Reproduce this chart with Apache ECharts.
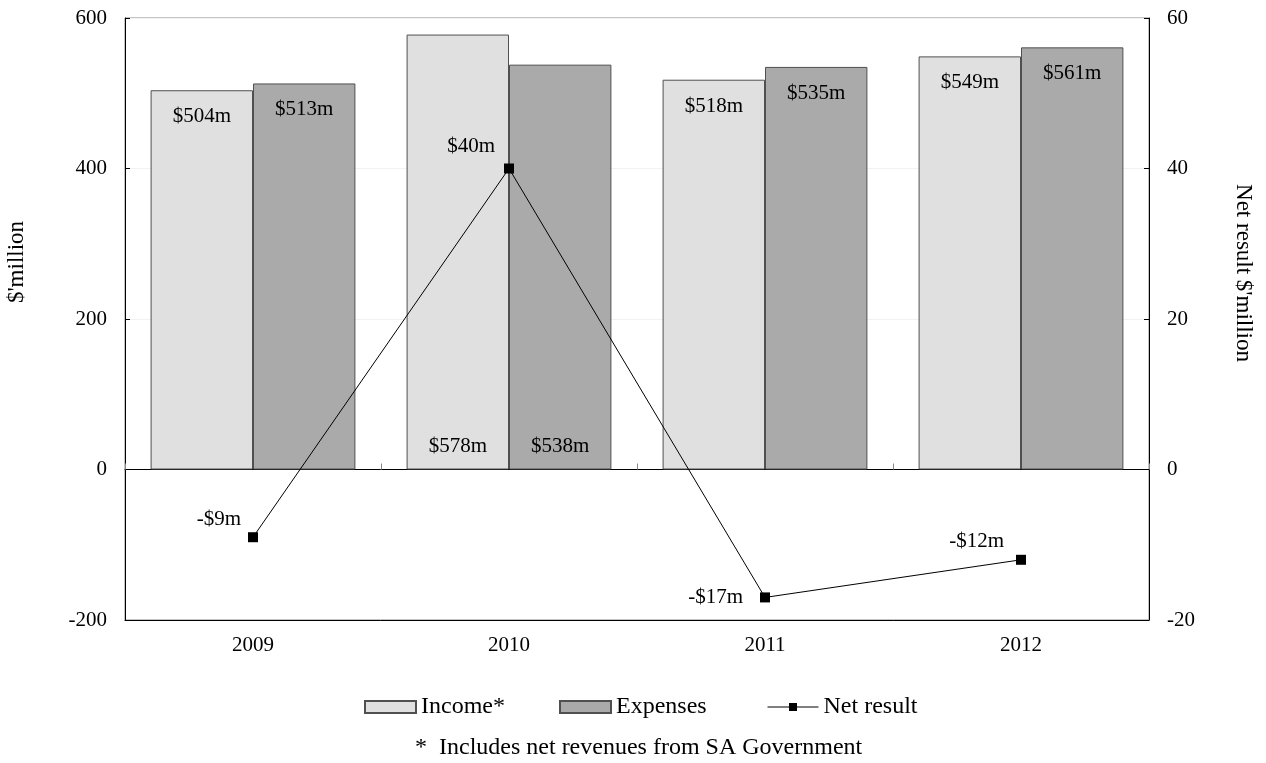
<!DOCTYPE html>
<html>
<head>
<meta charset="utf-8">
<script src="https://cdn.jsdelivr.net/npm/echarts@6/dist/echarts.min.js"></script>
<style>
  html, body { margin: 0; padding: 0; background: #ffffff; }
  #chart { width: 1266px; height: 763px; }
</style>
</head>
<body>
<div id="chart"></div>
<script>
// Financial summary: income, expenses and net result by year
const years = ['2009', '2010', '2011', '2012'];
const income = [504, 578, 518, 549];
const expenses = [513, 538, 535, 561];
const netResult = [-9, 40, -17, -12];
const leftTicks = { min: -200, max: 600, interval: 200 };
const rightTicks = { min: -20, max: 60, interval: 20 };

const FONT = "'Liberation Serif', 'Times New Roman', serif";

function money(v) {
  return (v < 0 ? '-$' + Math.abs(v) : '$' + v) + 'm';
}

// 2010 bar labels sit at the foot of the bars, others at the top
const barLabelBottom = [false, true, false, false];
function barData(values) {
  return values.map((v, i) => ({
    value: v,
    label: barLabelBottom[i]
      ? { position: 'insideBottom', distance: 13 }
      : { position: 'insideTop', distance: 16 }
  }));
}

// net result labels placed up-left of each marker
const netLabelPlace = [
  { distance: 7, offset: [0, -18] },
  { distance: 9, offset: [0, -22] },
  { distance: 17, offset: [0, 0] },
  { distance: 12, offset: [0, -18] }
];
const netData = netResult.map((v, i) => ({
  value: v,
  label: { position: 'left', distance: netLabelPlace[i].distance, offset: netLabelPlace[i].offset }
}));

const chart = echarts.init(document.getElementById('chart'), null, { renderer: 'canvas' });

const labelStyle = { color: '#000', fontFamily: FONT, fontSize: 21 };

chart.setOption({
  animation: false,
  backgroundColor: '#ffffff',
  textStyle: { fontFamily: FONT },
  grid: {
    left: 125, right: 117, top: 18, bottom: 143,
    show: true, borderColor: '#8a8a8a', borderWidth: 1, backgroundColor: 'transparent'
  },
  legend: [
    { data: [{ name: 'Income*', icon: 'rect' }], left: 364, top: 695 },
    { data: [{ name: 'Expenses', icon: 'rect' }], left: 559, top: 695 },
    { data: ['Net result'], left: 767, top: 695, lineStyle: { width: 1 }, itemHeight: 10 }
  ].map(l => Object.assign({
    padding: 0, itemWidth: 51, itemHeight: 12, itemGap: 0,
    textStyle: { color: '#000', fontFamily: FONT, fontSize: 24, padding: [0, 0, 0, 0] }
  }, l)),
  xAxis: [
    {
      type: 'category', data: years, position: 'bottom',
      axisLine: { onZero: false, lineStyle: { color: '#000', width: 1 } },
      axisTick: { show: false },
      axisLabel: { color: '#000', fontFamily: FONT, fontSize: 21, margin: 15 },
      splitLine: { show: false }
    },
    {
      type: 'category', data: years, position: 'bottom',
      axisLine: { onZero: true, onZeroAxisIndex: 0, lineStyle: { color: '#000', width: 1 } },
      axisTick: { show: true, inside: true, length: 6, lineStyle: { color: '#888' } },
      axisLabel: { show: false },
      splitLine: { show: false }
    }
  ],
  yAxis: [
    {
      type: 'value', position: 'left',
      min: leftTicks.min, max: leftTicks.max, interval: leftTicks.interval,
      axisLine: { show: true, lineStyle: { color: '#000', width: 1 } },
      axisTick: { show: true, inside: true, length: 5, lineStyle: { color: '#000' } },
      axisLabel: { color: '#000', fontFamily: FONT, fontSize: 21, margin: 18 },
      splitLine: { show: true, lineStyle: { color: '#f2f2f2', width: 1 } }
    },
    {
      type: 'value', position: 'right',
      min: rightTicks.min, max: rightTicks.max, interval: rightTicks.interval,
      axisLine: { show: true, lineStyle: { color: '#000', width: 1 } },
      axisTick: { show: true, inside: true, length: 5, lineStyle: { color: '#000' } },
      axisLabel: { color: '#000', fontFamily: FONT, fontSize: 21, margin: 18 },
      splitLine: { show: false }
    }
  ],
  series: [
    {
      name: 'Income*', type: 'bar', xAxisIndex: 0, yAxisIndex: 0,
      data: barData(income),
      barGap: '0%', barCategoryGap: '20%',
      itemStyle: { color: '#e0e0e0', borderColor: '#505050', borderWidth: 1 },
      label: Object.assign({ show: true, formatter: p => money(p.value) }, labelStyle),
      z: 2
    },
    {
      name: 'Expenses', type: 'bar', xAxisIndex: 0, yAxisIndex: 0,
      data: barData(expenses),
      barGap: '0%', barCategoryGap: '20%',
      itemStyle: { color: '#aaaaaa', borderColor: '#505050', borderWidth: 1 },
      label: Object.assign({ show: true, formatter: p => money(p.value) }, labelStyle),
      z: 2
    },
    {
      name: 'Net result', type: 'line', xAxisIndex: 0, yAxisIndex: 1,
      data: netData,
      symbol: 'rect', symbolSize: 10,
      lineStyle: { color: '#000', width: 1 },
      itemStyle: { color: '#000' },
      label: Object.assign({ show: true, formatter: p => money(p.value) }, labelStyle),
      z: 5
    }
  ],
  graphic: [
    {
      type: 'text', x: 17, y: 262, rotation: Math.PI / 2,
      style: { text: "$'million", font: '23px ' + FONT, fill: '#000', align: 'center', verticalAlign: 'middle' }
    },
    {
      type: 'text', x: 1243, y: 273, rotation: -Math.PI / 2,
      style: { text: "Net result $'million", font: '23px ' + FONT, fill: '#000', align: 'center', verticalAlign: 'middle' }
    },
    {
      type: 'text', x: 415, y: 748,
      style: { text: '*  Includes net revenues from SA Government', font: '24px ' + FONT, fill: '#000', align: 'left', verticalAlign: 'middle' }
    }
  ]
});
</script>
</body>
</html>
